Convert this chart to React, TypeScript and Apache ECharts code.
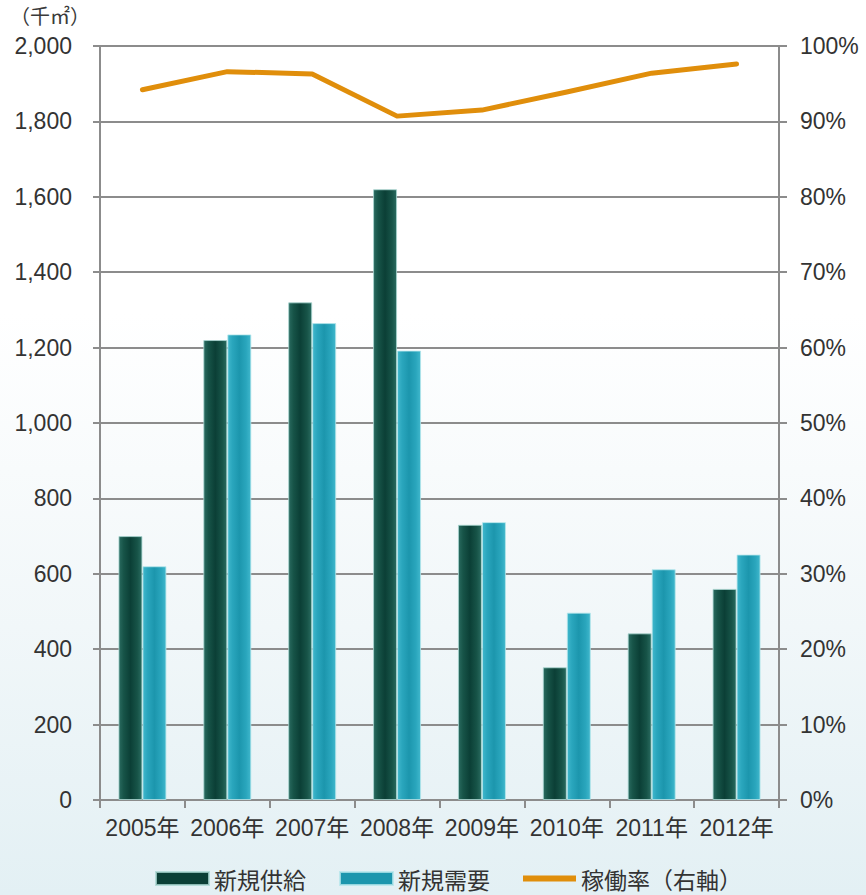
import React, { useEffect, useRef } from "react";
import * as echarts from "echarts";

const categories = ["2005年", "2006年", "2007年", "2008年", "2009年", "2010年", "2011年", "2012年"];
const newSupply = [700, 1220, 1320, 1620, 730, 352, 442, 560];
const newDemand = [620, 1235, 1265, 1192, 737, 497, 612, 651];
const occupancyRate = [94.2, 96.6, 96.3, 90.7, 91.5, 93.9, 96.4, 97.6];
const leftTicks = { min: 0, max: 2000, interval: 200 };
const rightTicks = { min: 0, max: 100, interval: 10 };
const seriesNames = ["新規供給", "新規需要", "稼働率（右軸）"];
const unitLabel = "（千㎡）";

const FONT = "'Liberation Sans', 'Noto Sans CJK JP', sans-serif";
const CJK = "'Noto Sans CJK JP', 'Liberation Sans', sans-serif";

export default function App() {
  const ref = useRef<HTMLDivElement>(null);
  useEffect(() => {
    document.body.style.margin = "0";
    const chart = echarts.init(ref.current!, null, { renderer: "svg" });
    const darkGrad = new echarts.graphic.LinearGradient(0, 0, 1, 0, [
      { offset: 0, color: "#2a6b60" },
      { offset: 0.2, color: "#175448" },
      { offset: 0.5, color: "#0b3f36" },
      { offset: 0.8, color: "#175448" },
      { offset: 1, color: "#2a6b60" },
    ]);
    const lightGrad = new echarts.graphic.LinearGradient(0, 0, 1, 0, [
      { offset: 0, color: "#40b7cc" },
      { offset: 0.2, color: "#2aa6bd" },
      { offset: 0.5, color: "#1c96ad" },
      { offset: 0.8, color: "#2aa6bd" },
      { offset: 1, color: "#40b7cc" },
    ]);
    chart.setOption({
      animation: false,
      backgroundColor: "transparent",
      textStyle: { fontFamily: FONT },
      graphic: [
        {
          type: "text",
          left: 10,
          top: 5,
          style: { text: unitLabel, font: `20px ${CJK}`, fill: "#3a3a3a" },
        },
      ],
      grid: { left: 100, right: 87, top: 46, bottom: 95, containLabel: false },
      legend: {
        bottom: 0,
        left: 150,
        itemWidth: 53,
        itemHeight: 13,
        itemGap: 33,
        textStyle: { fontSize: 23, color: "#333", fontFamily: CJK },
        data: [
          { name: seriesNames[0], icon: "rect", itemStyle: { color: "#0b3f36" } },
          { name: seriesNames[1], icon: "rect", itemStyle: { color: "#1c96ad" } },
          {
            name: seriesNames[2],
            icon: "path://M0,0 L53,0 L53,6 L0,6 Z",
            itemStyle: { color: "#e08e0b", borderWidth: 0 },
          },
        ],
      },
      xAxis: {
        type: "category",
        data: categories,
        axisLine: { lineStyle: { color: "#8c8c8c", width: 2 } },
        axisTick: { show: true, length: 8, lineStyle: { color: "#8c8c8c", width: 2 } },
        axisLabel: { fontSize: 23, color: "#333", margin: 16, fontFamily: FONT, interval: 0 },
      },
      yAxis: [
        {
          type: "value",
          ...leftTicks,
          axisLine: { show: true, lineStyle: { color: "#8c8c8c", width: 2 } },
          axisTick: { show: true, length: 7, lineStyle: { color: "#8c8c8c", width: 2 } },
          splitLine: { show: true, lineStyle: { color: "#8c8c8c", width: 2 } },
          axisLabel: {
            fontSize: 23,
            color: "#333",
            margin: 28,
            formatter: (v: number) => v.toLocaleString("en-US"),
          },
        },
        {
          type: "value",
          ...rightTicks,
          position: "right",
          axisLine: { show: true, lineStyle: { color: "#8c8c8c", width: 2 } },
          axisTick: { show: true, length: 8, lineStyle: { color: "#8c8c8c", width: 2 } },
          splitLine: { show: false },
          axisLabel: { fontSize: 23, color: "#333", margin: 21, formatter: "{value}%" },
        },
      ],
      series: [
        {
          name: seriesNames[0],
          type: "bar",
          data: newSupply,
          barWidth: 24,
          barGap: "0%",
          itemStyle: { color: darkGrad, borderColor: "rgba(170,215,210,0.8)", borderWidth: 1 },
        },
        {
          name: seriesNames[1],
          type: "bar",
          data: newDemand,
          barWidth: 24,
          barGap: "0%",
          itemStyle: { color: lightGrad, borderColor: "rgba(180,230,235,0.8)", borderWidth: 1 },
        },
        {
          name: seriesNames[2],
          type: "line",
          yAxisIndex: 1,
          data: occupancyRate,
          showSymbol: false,
          symbol: "none",
          itemStyle: { color: "#e08e0b" },
          lineStyle: { color: "#e08e0b", width: 5, cap: "round", join: "round" },
        },
      ],
    });
    return () => chart.dispose();
  }, []);
  return (
    <div
      style={{
        position: "fixed",
        left: 0,
        top: 0,
        width: 866,
        height: 895,
        background: "linear-gradient(180deg, #ffffff 0%, #ffffff 35%, #f1f7f9 70%, #e3f0f4 100%)",
      }}
    >
      <div ref={ref} style={{ width: 866, height: 895 }} />
    </div>
  );
}
